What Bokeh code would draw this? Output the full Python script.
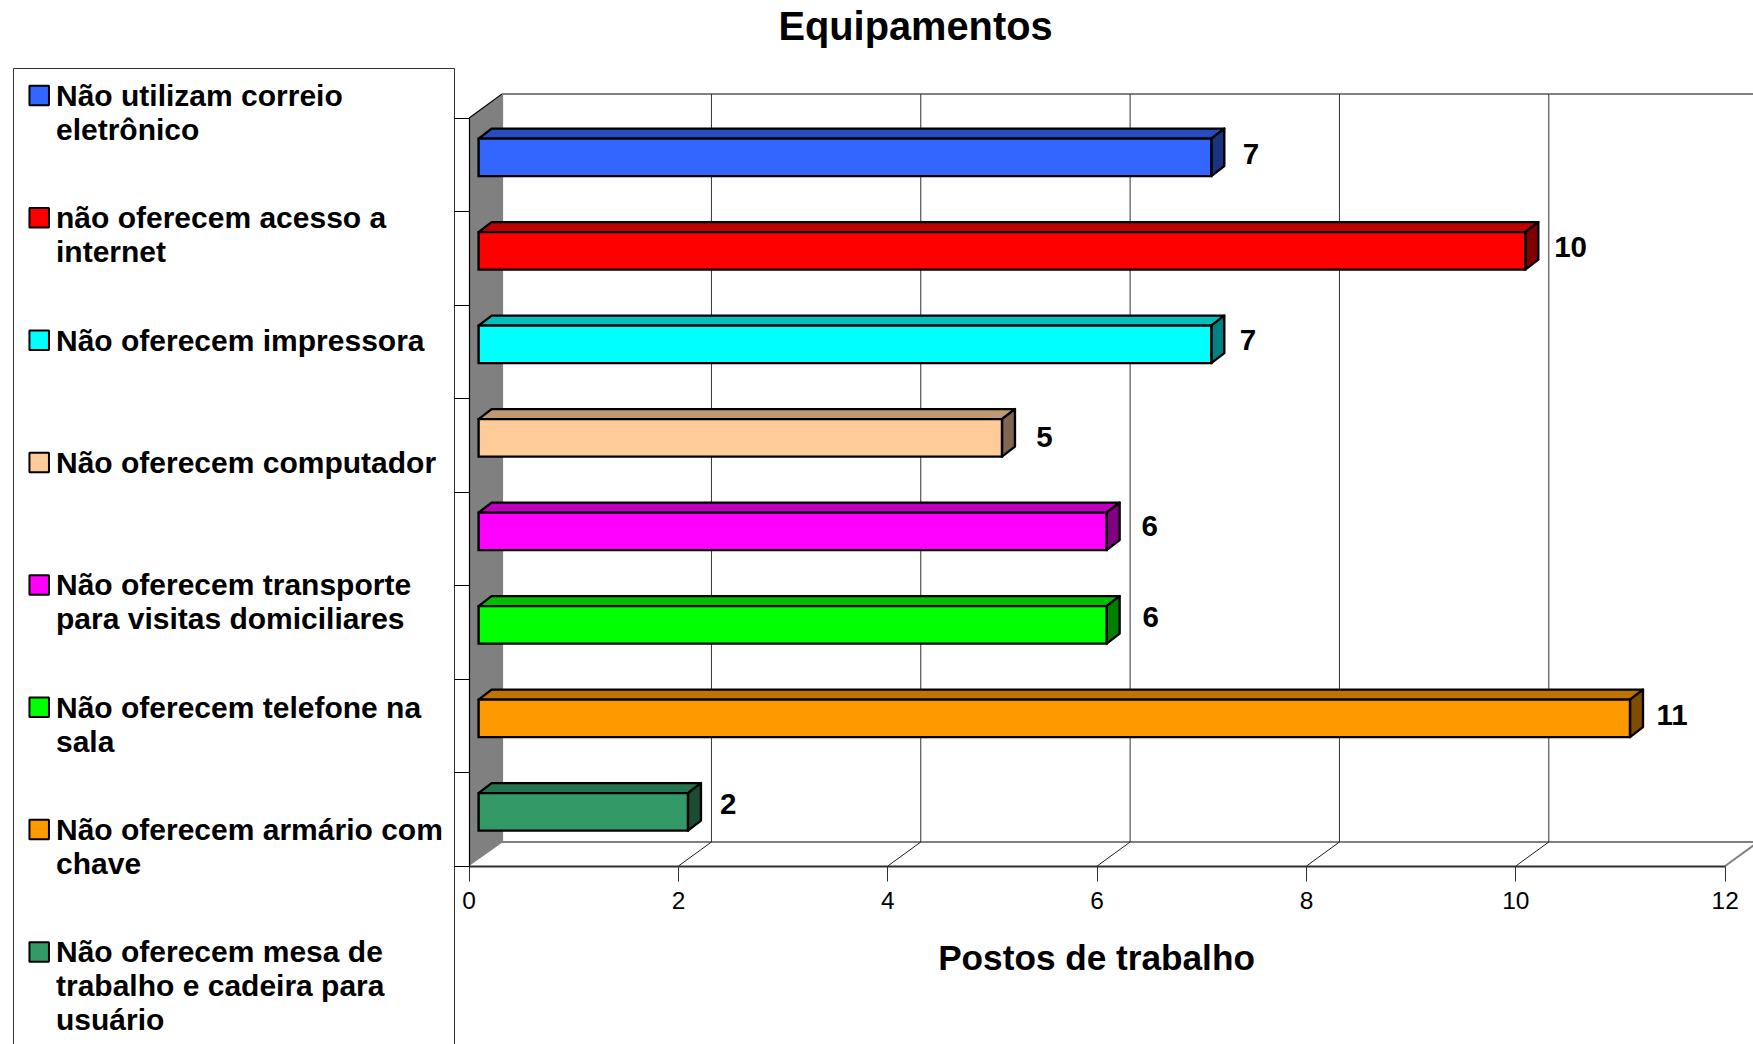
from bokeh.plotting import figure
from bokeh.embed import file_html
from bokeh.resources import INLINE
from bokeh.models import Range1d, LinearAxis, FixedTicker
from bokeh.core.properties import value

# ---------- data ----------
title_text = "Equipamentos"
axis_title = "Postos de trabalho"
legend_lines = [
    ["Não utilizam correio", "eletrônico"],
    ["não oferecem acesso a", "internet"],
    ["Não oferecem impressora"],
    ["Não oferecem computador"],
    ["Não oferecem transporte", "para visitas domiciliares"],
    ["Não oferecem telefone na", "sala"],
    ["Não oferecem armário com", "chave"],
    ["Não oferecem mesa de", "trabalho e cadeira para", "usuário"],
]
values = [7, 10, 7, 5, 6, 6, 11, 2]
x_ticks = [0, 2, 4, 6, 8, 10, 12]
front_colors = ["#3366FF", "#FF0000", "#00FFFF", "#FFCC99", "#FF00FF", "#00FF00", "#FF9900", "#339966"]
top_colors = ["#264CBF", "#BF0000", "#00BFBF", "#BF9973", "#BF00BF", "#00BF00", "#BF7300", "#26734D"]
side_colors = ["#19337F", "#800000", "#008080", "#806650", "#800080", "#008000", "#804D00", "#1A4D33"]
label_dx_px = [39.6, 45.3, 36.6, 42.6, 43, 44, 42.1, 40.2]
label_dy_px = [-11, -11, -12, -8, -13, -15.5, -11, -15]

# ---------- layout ----------
FONT = "Liberation Sans"
W, H = 1753, 1044
X0_PX, XU = 468.6, 104.67
Y0_PX, YU = 117.5, 93.5
n = len(values)

def xd(px):
    return (px - X0_PX) / XU

def yd(py):
    return (py - Y0_PX) / YU

DX, DY = 33 / XU, 24 / YU        # depth of the chart box
BX = 9.5 / XU                    # bar offset from axis
BDX, BDY = 13 / XU, 10 / YU      # depth of bars
BY = 7.4 / YU
BH = 37.5 / YU

p = figure(width=W, height=H, output_backend="svg", toolbar_location=None,
           x_range=Range1d(xd(0), xd(W)), y_range=Range1d(yd(H), yd(0)),
           x_axis_type=None, y_axis_type=None, min_border=0, outline_line_color=None,
           background_fill_color="white", border_fill_color="white")
p.grid.visible = False

# legend box
p.quad(left=[xd(13)], right=[xd(454)], top=[yd(68)], bottom=[yd(1100)],
       fill_color="white", line_color="#333333", line_width=1)

# box walls
p.patch([0, DX + 1 / XU, DX + 1 / XU, 0], [0, -DY, n - DY, n], fill_color="#808080", line_color=None)
p.line([0, DX], [0, -DY], line_color="black", line_width=1.2)
p.line([DX, xd(1760)], [-DY, -DY], line_color="#808080", line_width=2)
p.line([DX, xd(1760)], [n - DY, n - DY], line_color="#808080", line_width=2)

# grid on back wall and floor
grid_x = [t + DX for t in x_ticks[1:]]
p.segment(grid_x, [-DY] * len(grid_x), grid_x, [n - DY] * len(grid_x), line_color="#333333", line_width=1)
p.segment(x_ticks[1:-1], [n] * (len(x_ticks) - 2), [t + DX for t in x_ticks[1:-1]], [n - DY] * (len(x_ticks) - 2),
          line_color="#202020", line_width=1)
p.segment([x_ticks[-1]], [n], [x_ticks[-1] + DX], [n - DY], line_color="#808080", line_width=2)

# bars
cy = [i + 0.5 - BY for i in range(n)]
tops = [c - BH / 2 for c in cy]
bots = [c + BH / 2 for c in cy]
rights = [v + BX for v in values]
p.patches([[BX, BX + BDX, r + BDX, r] for r in rights],
          [[t, t - BDY, t - BDY, t] for t in tops],
          fill_color=top_colors, line_color="black", line_width=2.4, line_join="round")
p.patches([[r, r + BDX, r + BDX, r] for r in rights],
          [[t, t - BDY, b - BDY, b] for t, b in zip(tops, bots)],
          fill_color=side_colors, line_color="black", line_width=2.4, line_join="round")
p.quad(left=[BX] * n, right=rights, top=tops, bottom=bots,
       fill_color=front_colors, line_color="black", line_width=2.4, line_join="miter")

# data labels
p.text([r + d / XU for r, d in zip(rights, label_dx_px)],
       [i + 0.5 + d / YU for i, d in enumerate(label_dy_px)],
       text=[str(v) for v in values], text_font=value(FONT), text_font_style="bold",
       text_font_size="29.5px", text_align="center", text_baseline="middle", text_color="black")

# axes
xa = LinearAxis(fixed_location=n, ticker=FixedTicker(ticks=x_ticks), bounds=(0, 12))
xa.axis_line_color = "#303030"
xa.axis_line_width = 2
xa.major_tick_line_color = "#303030"
xa.major_tick_in = 0
xa.major_tick_out = 15
xa.minor_tick_line_color = None
xa.major_label_text_font = FONT
xa.major_label_text_font_size = "24.5px"
xa.major_label_text_color = "black"
xa.major_label_standoff = 11
p.add_layout(xa, "below")

ya = LinearAxis(fixed_location=0, ticker=FixedTicker(ticks=list(range(n + 1))), bounds=(0, n))
ya.axis_line_color = "black"
ya.axis_line_width = 1.2
ya.major_tick_line_color = "black"
ya.major_tick_in = 0
ya.major_tick_out = 15
ya.minor_tick_line_color = None
ya.major_label_overrides = {i: "" for i in range(n + 1)}
p.add_layout(ya, "left")

# legend
ROW0, ROW_STEP, LINE_STEP = 95.0, 122.35, 34
p.rect([xd(38.7)] * n, [yd(ROW0 + ROW_STEP * i) for i in range(n)], width=19.5 / XU, height=19.5 / YU,
       fill_color=front_colors, line_color="black", line_width=2)
lx, ly, lt = [], [], []
for i, lines in enumerate(legend_lines):
    for j, s in enumerate(lines):
        lx.append(xd(55.5))
        ly.append(yd(ROW0 + ROW_STEP * i + LINE_STEP * j))
        lt.append(s)
p.text(lx, ly, text=lt, text_font=value(FONT), text_font_style="bold", text_font_size="30px",
       text_align="left", text_baseline="middle", text_color="black")

# titles
p.text([xd(915)], [yd(25.5)], text=[title_text], text_font=value(FONT), text_font_style="bold",
       text_font_size="39.8px", text_align="center", text_baseline="middle", text_color="black")
p.text([xd(1096)], [yd(957)], text=[axis_title], text_font=value(FONT), text_font_style="bold",
       text_font_size="35.2px", text_align="center", text_baseline="middle", text_color="black")

open("out.html", "w").write(file_html(p, INLINE))
